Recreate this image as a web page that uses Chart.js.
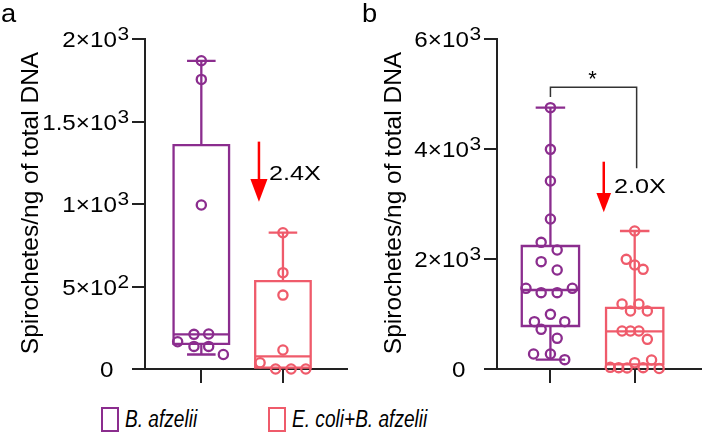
<!DOCTYPE html>
<html>
<head>
<meta charset="utf-8">
<title>Spirochete load</title>
<script src="https://cdn.jsdelivr.net/npm/chart.js@4.4.1/dist/chart.umd.min.js"></script>
<style>
  html, body { margin: 0; padding: 0; background: #fff; }
  body { width: 708px; height: 434px; position: relative; overflow: hidden;
         font-family: "Liberation Sans", Arial, sans-serif; }
  canvas { position: absolute; top: 0; }
  #chartA { left: 0; }
  #chartB { left: 354px; }
  .swatch { position: absolute; top: 407px; width: 18px; height: 25px;
            box-sizing: border-box; border: 2.5px solid; }
  .label { position: absolute; top: 408px; font-size: 23px; line-height: 23px;
           font-style: italic; color: #000; white-space: nowrap;
           transform: scaleX(0.83); transform-origin: 0 0; }
</style>
</head>
<body>
<canvas id="chartA" width="354" height="390"></canvas>
<canvas id="chartB" width="354" height="390"></canvas>
<div id="legend"></div>
<script>
const groups = ["B. afzelii", "E. coli+B. afzelii"];
const groupColors = ["#8B2D8E", "#EF5B6B"];
const yTitle = "Spirochetes/ng of total DNA";

// panel a: values and horizontal jitter (category units)
const aX1 = [0, 0, 0, -0.09, 0.09, -0.29, -0.09, 0.09, 0.27];
const aY1 = [1868, 1755, 994, 210, 212, 165, 137, 137, 88];
const aX2 = [0, 0, 0, 0, -0.28, -0.09, 0.1, 0.28];
const aY2 = [826, 584, 448, 115, 38, 0, 0, 0];
// [min, q1, median, q3, max] as drawn
const aBox1 = [88, 152, 210, 1357, 1868];
const aBox2 = [0, 8, 76, 533, 826];
const aTicks = [0, 500, 1000, 1500, 2000];
const aTickLabels = [["0", ""], ["5×10", "2"], ["1×10", "3"], ["1.5×10", "3"], ["2×10", "3"]];

// panel b
const bX1 = [0, 0, 0, 0, -0.11, 0.08, -0.11, 0.08, -0.29, 0.26, -0.11, 0.08, 0, -0.19, 0.17, -0.11, 0.08, -0.2, 0, 0.17];
const bY1 = [4752, 3994, 3418, 2727, 2303, 2164, 1952, 1800, 1467, 1467, 1388, 1388, 994, 861, 861, 721, 558, 273, 273, 170];
const bX2 = [0, -0.1, 0, 0.1, -0.15, 0.05, -0.05, 0.15, -0.15, -0.05, 0.05, 0.15, 0.2, 0, -0.29, -0.19, -0.09, 0.1, 0.29];
const bY2 = [2509, 1994, 1891, 1812, 1182, 1182, 1055, 1055, 691, 691, 691, 539, 164, 115, 30, 25, 20, 25, 10];
const bBox1 = [170, 782, 1436, 2236, 4752];
const bBox2 = [20, 85, 685, 1110, 2509];
const bTicks = [0, 2000, 4000, 6000];
const bTickLabels = [["0", ""], ["2×10", "3"], ["4×10", "3"], ["6×10", "3"]];

// annotations, in data units
const aArrow = { x: 1.706, top: 1378, head: 1152, tip: 1014, half: 0.105 };
const aFold = { x: 1.83, y: 1145, text: "2.4X" };
const bArrow = { x: 1.633, top: 3769, head: 3200, tip: 2849, half: 0.087 };
const bFold = { x: 1.755, y: 3195, text: "2.0X" };
const bBracket = { x1: 1, x2: 2.023, y: 5125, left: 4945, right: 3649, starX: 1.5, starY: 5150 };

const FONT = '"Liberation Sans", Arial, sans-serif';
const boxHalf = 0.34, capHalf = 0.175;

function drawText(ctx, s, x, y, size, sx, align, style) {
  ctx.save();
  ctx.font = (style ? style + " " : "") + size + "px " + FONT;
  ctx.fillStyle = "#000";
  ctx.textAlign = align;
  ctx.textBaseline = "alphabetic";
  ctx.translate(x, y);
  ctx.scale(sx, 1);
  ctx.fillText(s, 0, 0);
  ctx.restore();
}

function panelPlugin(id, p) {
  return {
    id: "panel_" + id,
    beforeDatasetsDraw(chart) {
      const { ctx, scales: { x, y } } = chart;
      p.boxes.forEach((b, i) => {
        const c = i + 1;
        const cx = x.getPixelForValue(c);
        const l = x.getPixelForValue(c - boxHalf), r = x.getPixelForValue(c + boxHalf);
        const cl = x.getPixelForValue(c - capHalf), cr = x.getPixelForValue(c + capHalf);
        const [mn, q1, md, q3, mx] = b.map(v => y.getPixelForValue(v));
        ctx.save();
        ctx.strokeStyle = groupColors[i];
        ctx.lineWidth = 2.3;
        ctx.beginPath();
        ctx.rect(l, q3, r - l, q1 - q3);
        ctx.moveTo(l, md); ctx.lineTo(r, md);
        ctx.moveTo(cx, q3); ctx.lineTo(cx, mx);
        ctx.moveTo(cl, mx); ctx.lineTo(cr, mx);
        if (mn - q1 > 4) {
          ctx.moveTo(cx, q1); ctx.lineTo(cx, mn);
          ctx.moveTo(cl, mn); ctx.lineTo(cr, mn);
        }
        ctx.stroke();
        ctx.restore();
      });
    },
    afterDraw(chart) {
      const { ctx, chartArea, scales: { x, y } } = chart;
      const ax = chartArea.left;

      // y tick labels with raised exponent
      p.ticks.forEach((v, i) => {
        const py = y.getPixelForValue(v);
        const [base, exp] = p.tickLabels[i];
        let right = ax - 16;
        if (exp) {
          ctx.font = "19px " + FONT;
          const w = ctx.measureText(exp).width * 1.1;
          drawText(ctx, exp, right, py + 1, 19, 1.1, "right");
          right -= w + 0.5;
        } else {
          right -= 15.5;
        }
        drawText(ctx, base, right, py + 8, 22, 1.1, "right");
      });

      // axis title
      ctx.save();
      ctx.translate(p.titleX, 203);
      ctx.rotate(-Math.PI / 2);
      ctx.font = "24.5px " + FONT;
      ctx.fillStyle = "#000";
      ctx.textAlign = "center";
      ctx.fillText(yTitle, 0, 0);
      ctx.restore();

      // panel letter
      drawText(ctx, p.letter, p.letterX, 22, 26, 1.05, "left");

      // red fold-change arrow
      const a = p.arrow;
      const px = x.getPixelForValue(a.x);
      const hw = x.getPixelForValue(a.x + a.half) - px;
      ctx.save();
      ctx.strokeStyle = "#FF0000";
      ctx.fillStyle = "#FF0000";
      ctx.lineWidth = 2.5;
      ctx.beginPath();
      ctx.moveTo(px, y.getPixelForValue(a.top));
      ctx.lineTo(px, y.getPixelForValue(a.head) + 1);
      ctx.stroke();
      ctx.beginPath();
      ctx.moveTo(px - hw, y.getPixelForValue(a.head));
      ctx.lineTo(px + hw, y.getPixelForValue(a.head));
      ctx.lineTo(px, y.getPixelForValue(a.tip));
      ctx.closePath();
      ctx.fill();
      ctx.restore();
      drawText(ctx, p.fold.text, x.getPixelForValue(p.fold.x), y.getPixelForValue(p.fold.y), 21, 1.2, "left");

      // significance bracket
      if (p.bracket) {
        const br = p.bracket;
        ctx.save();
        ctx.strokeStyle = "#333";
        ctx.lineWidth = 1.5;
        ctx.beginPath();
        ctx.moveTo(x.getPixelForValue(br.x1), y.getPixelForValue(br.left));
        ctx.lineTo(x.getPixelForValue(br.x1), y.getPixelForValue(br.y));
        ctx.lineTo(x.getPixelForValue(br.x2), y.getPixelForValue(br.y));
        ctx.lineTo(x.getPixelForValue(br.x2), y.getPixelForValue(br.right));
        ctx.stroke();
        ctx.restore();
        drawText(ctx, "*", x.getPixelForValue(br.starX), y.getPixelForValue(br.starY), 22, 1, "center");
      }
    }
  };
}

function makePanel(id, p) {
  const axisColor = "#222";
  const axisGrid = { display: true, drawOnChartArea: false, drawTicks: true, color: axisColor, lineWidth: 2 };
  new Chart(document.getElementById(id), {
    type: "scatter",
    data: {
      datasets: p.points.map((pts, i) => ({
        label: groups[i],
        data: pts[1].map((v, k) => ({ x: i + 1 + pts[0][k], y: v })),
        borderColor: groupColors[i],
        backgroundColor: "rgba(0,0,0,0)",
        pointRadius: 4.6,
        pointHoverRadius: 4.6,
        pointBorderWidth: 2.3,
        clip: false
      }))
    },
    options: {
      responsive: false,
      animation: false,
      devicePixelRatio: 1,
      events: [],
      layout: { padding: { top: p.top, right: p.padRight, left: 0, bottom: 0 } },
      plugins: { legend: { display: false }, tooltip: { enabled: false } },
      scales: {
        x: {
          type: "linear",
          min: p.xMin,
          max: p.xMax,
          afterBuildTicks: s => { s.ticks = [{ value: 1 }, { value: 2 }]; },
          afterFit: s => { s.height = 21; },
          ticks: { display: false },
          grid: Object.assign({ tickLength: 14 }, axisGrid),
          border: { display: true, color: axisColor, width: 2 }
        },
        y: {
          type: "linear",
          min: 0,
          max: p.yMax,
          afterBuildTicks: s => { s.ticks = p.ticks.map(v => ({ value: v })); },
          afterFit: s => { s.width = p.yWidth; },
          ticks: { display: false },
          grid: Object.assign({ tickLength: 13 }, axisGrid),
          border: { display: true, color: axisColor, width: 2 }
        }
      }
    },
    plugins: [panelPlugin(id, p)]
  });
}

makePanel("chartA", {
  letter: "a", letterX: 1, titleX: 38,
  top: 39, padRight: 1, yWidth: 145,
  xMin: 0.31, xMax: 2.786, yMax: 2000,
  ticks: aTicks, tickLabels: aTickLabels,
  points: [[aX1, aY1], [aX2, aY2]],
  boxes: [aBox1, aBox2],
  arrow: aArrow, fold: aFold, bracket: null
});

makePanel("chartB", {
  letter: "b", letterX: 8, titleX: 46.5,
  top: 39, padRight: 2, yWidth: 143,
  xMin: 0.366, xMax: 2.788, yMax: 6000,
  ticks: bTicks, tickLabels: bTickLabels,
  points: [[bX1, bY1], [bX2, bY2]],
  boxes: [bBox1, bBox2],
  arrow: bArrow, fold: bFold, bracket: bBracket
});

// legend below both panels
const legendX = [101, 268];
const legend = document.getElementById("legend");
groups.forEach((g, i) => {
  const sw = document.createElement("span");
  sw.className = "swatch";
  sw.style.left = legendX[i] + "px";
  sw.style.borderColor = groupColors[i];
  legend.appendChild(sw);
  const lb = document.createElement("span");
  lb.className = "label";
  lb.style.left = (legendX[i] + 24) + "px";
  lb.textContent = g;
  legend.appendChild(lb);
});
</script>
</body>
</html>
